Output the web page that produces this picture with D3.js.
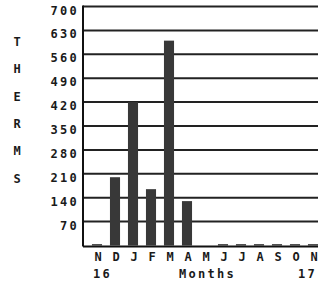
<!DOCTYPE html>
<html>
<head>
<meta charset="utf-8">
<script src="https://cdn.jsdelivr.net/npm/d3@7"></script>
<style>
  body { margin: 0; background: #fff; }
  svg text { font-family: "DejaVu Sans Mono", monospace; font-weight: bold; fill: #1a1a1a; }
</style>
</head>
<body>
<svg id="chart" width="318" height="284"></svg>
<script>
var months = ['N', 'D', 'J', 'F', 'M', 'A', 'M', 'J', 'J', 'A', 'S', 'O', 'N'];
var therms = [4, 200, 420, 165, 600, 130, 0, 4, 4, 4, 4, 4, 4];
var yTicks = [70, 140, 210, 280, 350, 420, 490, 560, 630, 700];
var yearLabels = ['16', '17'];
var axisTitle = 'THERMS';

var svg = d3.select('#chart');
var plotLeft = 83, plotRight = 318, plotTop = 6.5, plotBottom = 245.5;

var x = d3.scaleBand()
  .domain(d3.range(months.length))
  .range([88, 322])
  .paddingInner(0.44)
  .paddingOuter(0.22);

var y = d3.scaleLinear()
  .domain([0, 700])
  .range([plotBottom, plotTop]);

// grid lines
svg.append('g')
  .selectAll('line')
  .data(yTicks)
  .enter()
  .append('line')
  .attr('x1', plotLeft)
  .attr('x2', plotRight)
  .attr('y1', function (d) { return y(d); })
  .attr('y2', function (d) { return y(d); })
  .attr('stroke', '#222')
  .attr('stroke-width', 2);

// tick labels, hanging just under their line
svg.append('g')
  .selectAll('text')
  .data(yTicks)
  .enter()
  .append('text')
  .attr('x', 79)
  .attr('y', function (d) { return y(d) + 8; })
  .attr('text-anchor', 'end')
  .attr('font-size', 12)
  .attr('letter-spacing', 2.3)
  .text(function (d) { return d; });

// bars
svg.append('g')
  .selectAll('rect')
  .data(therms)
  .enter()
  .append('rect')
  .attr('x', function (d, i) { return x(i); })
  .attr('width', x.bandwidth())
  .attr('y', function (d) { return d > 0 ? y(d) : plotBottom; })
  .attr('height', function (d) { return d > 0 ? plotBottom - y(d) : 0; })
  .attr('fill', '#383838');

// axes frame
svg.append('line')
  .attr('x1', plotLeft).attr('x2', plotLeft)
  .attr('y1', plotTop - 1).attr('y2', plotBottom + 1)
  .attr('stroke', '#111').attr('stroke-width', 2);
svg.append('line')
  .attr('x1', plotLeft).attr('x2', plotRight)
  .attr('y1', plotBottom + 1).attr('y2', plotBottom + 1)
  .attr('stroke', '#111').attr('stroke-width', 2);

// month labels
svg.append('g')
  .selectAll('text')
  .data(months)
  .enter()
  .append('text')
  .attr('x', function (d, i) { return x(i) + x.bandwidth() / 2 + 1; })
  .attr('y', 261)
  .attr('text-anchor', 'middle')
  .attr('font-size', 12)
  .text(function (d) { return d; });

svg.append('text')
  .attr('x', 93).attr('y', 278)
  .attr('font-size', 12).attr('letter-spacing', 2.3)
  .text(yearLabels[0]);
svg.append('text')
  .attr('x', 298).attr('y', 278)
  .attr('font-size', 12).attr('letter-spacing', 2.3)
  .text(yearLabels[1]);
svg.append('text')
  .attr('x', 179).attr('y', 278)
  .attr('font-size', 12).attr('letter-spacing', 2.3)
  .text('Months');

// vertical title, one letter per row
svg.append('g')
  .selectAll('text')
  .data(axisTitle.split(''))
  .enter()
  .append('text')
  .attr('x', 17)
  .attr('y', function (d, i) { return 46 + i * 27.3; })
  .attr('text-anchor', 'middle')
  .attr('font-size', 12)
  .text(function (d) { return d; });
</script>
</body>
</html>
